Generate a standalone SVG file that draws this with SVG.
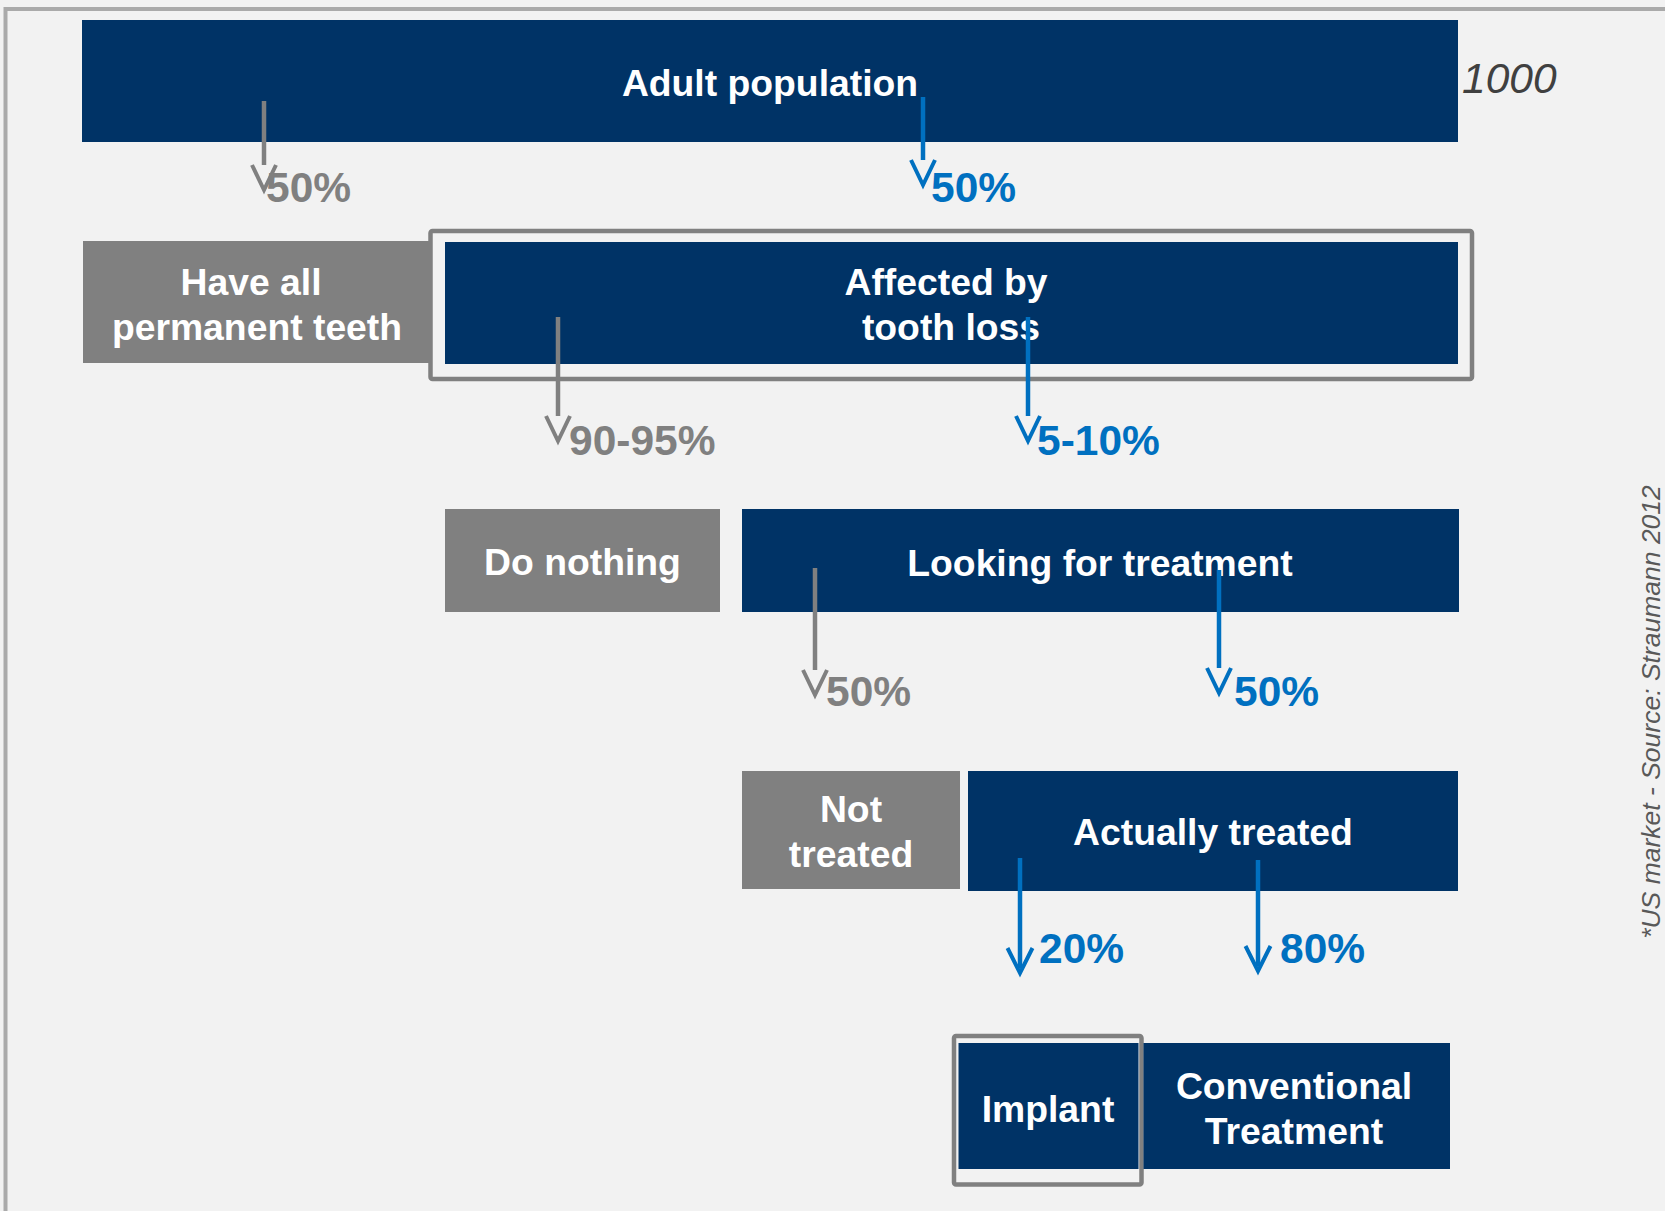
<svg xmlns="http://www.w3.org/2000/svg" width="1665" height="1211" viewBox="0 0 1665 1211">
<style>
.bg{fill:#f2f2f2}
.blue{fill:#003366}
.grey{fill:#808080}
.outline{fill:none;stroke:#808080;stroke-width:4.5}
.bt{font-family:"Liberation Sans",Arial,sans-serif;font-weight:bold;font-size:37.3px;fill:#ffffff;text-anchor:middle}
.pg{font-family:"Liberation Sans",Arial,sans-serif;font-weight:bold;font-size:42.5px;fill:#808080}
.pb{font-family:"Liberation Sans",Arial,sans-serif;font-weight:bold;font-size:42.5px;fill:#0070c0}
.lg{stroke:#808080;stroke-width:4.5;fill:none}
.lb{stroke:#0070c0;stroke-width:4.5;fill:none}
.hg{stroke:#808080;stroke-width:4;fill:none}
.hb{stroke:#0070c0;stroke-width:4;fill:none}
</style>
<rect class="bg" x="0" y="0" width="1665" height="1211"/>
<rect x="5.5" y="9" width="1720" height="1300" fill="none" stroke="#aaaaaa" stroke-width="4"/>

<g id="adult">
<rect class="blue" x="82" y="20" width="1376" height="122"/>
<text class="bt" x="770" y="96">Adult population</text>
</g>
<text x="1462" y="93" font-family="'Liberation Sans',Arial,sans-serif" font-style="italic" font-size="42.5" fill="#404040">1000</text>

<g id="have-all">
<rect class="grey" x="83" y="241" width="346" height="122"/>
<text class="bt" x="251" y="295">Have all</text>
<text class="bt" x="257" y="340">permanent teeth</text>
</g>

<g id="affected">
<rect class="outline" x="430.5" y="231" width="1041.5" height="148" rx="2"/>
<rect class="blue" x="445" y="242" width="1013" height="122"/>
<text class="bt" x="946" y="295">Affected by</text>
<text class="bt" x="951" y="340">tooth loss</text>
</g>

<g id="do-nothing">
<rect class="grey" x="445" y="509" width="275" height="103"/>
<text class="bt" x="582.5" y="575">Do nothing</text>
</g>

<g id="looking">
<rect class="blue" x="742" y="509" width="717" height="103"/>
<text class="bt" x="1100" y="576">Looking for treatment</text>
</g>

<g id="not-treated">
<rect class="grey" x="742" y="771" width="218" height="118"/>
<text class="bt" x="851" y="822">Not</text>
<text class="bt" x="851" y="867">treated</text>
</g>

<g id="actually-treated">
<rect class="blue" x="968" y="771" width="490" height="120"/>
<text class="bt" x="1213" y="845">Actually treated</text>
</g>

<g id="implant">
<rect class="blue" x="958.5" y="1043" width="180" height="126"/>
<rect class="outline" x="954" y="1036" width="187.5" height="148.5" rx="2"/>
<text class="bt" x="1048" y="1122">Implant</text>
</g>

<g id="conventional">
<rect class="blue" x="1143.5" y="1043" width="306.5" height="126"/>
<text class="bt" x="1294" y="1099">Conventional</text>
<text class="bt" x="1294" y="1144">Treatment</text>
</g>

<g id="connectors">
<line class="lg" x1="264" y1="101" x2="264" y2="165"/>
<polyline class="hg" points="252,165 264,190 276,165"/>
<line class="lg" x1="558" y1="317" x2="558" y2="416"/>
<polyline class="hg" points="546,416 558,441 570,416"/>
<line class="lg" x1="815" y1="568" x2="815" y2="670"/>
<polyline class="hg" points="803,670 815,695 827,670"/>

<line class="lb" x1="923" y1="97" x2="923" y2="160"/>
<polyline class="hb" points="911,160 923,185 935,160"/>
<line class="lb" x1="1028" y1="317" x2="1028" y2="416"/>
<polyline class="hb" points="1016,416 1028,441 1040,416"/>
<line class="lb" x1="1219" y1="570" x2="1219" y2="668"/>
<polyline class="hb" points="1207,668 1219,693 1231,668"/>
<line class="lb" x1="1020" y1="858" x2="1020" y2="968"/>
<polyline class="hb" points="1007.5,948 1020,973 1032.5,948"/>
<line class="lb" x1="1258" y1="860" x2="1258" y2="966"/>
<polyline class="hb" points="1245.5,946 1258,971 1270.5,946"/>
</g>

<g id="labels">
<text class="pg" x="266" y="202">50%</text>
<text class="pb" x="931" y="202">50%</text>
<text class="pg" x="569" y="455">90-95%</text>
<text class="pb" x="1037" y="455">5-10%</text>
<text class="pg" x="826" y="706">50%</text>
<text class="pb" x="1234" y="706">50%</text>
<text class="pb" x="1039" y="963">20%</text>
<text class="pb" x="1280" y="963">80%</text>
</g>

<text transform="translate(1660,712) rotate(-90)" text-anchor="middle" font-family="'Liberation Sans',Arial,sans-serif" font-style="italic" font-size="26.5" fill="#595959">*US market - Source: Straumann 2012</text>
</svg>
